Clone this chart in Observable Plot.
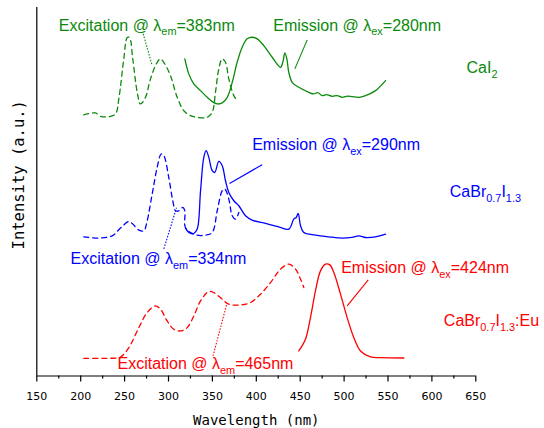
<!DOCTYPE html>
<html><head><meta charset="utf-8">
<script src="https://cdn.jsdelivr.net/npm/d3@7"></script>
<script src="https://cdn.jsdelivr.net/npm/@observablehq/plot@0.6"></script>
<style>body{margin:0;background:#fff}</style>
</head><body><div id="chart"></div>
<script>
// ---- data (wavelength in nm, intensity in arbitrary units, curves stacked) ----
const greenExcNm = [203.5,216.9,222.6,232,239.6,243.4,249.1,253,255.6,259.3,264.4,268.1,273.8,279.5,287.1,290.9,294.6,302.2,309.9,317.4,325.1,332.7,344.1,349.8,353.5,357.3,361.2,364.9,368.7,374.4,378.2];
const greenExcI  = [260.7,262.7,259.3,259,261.7,276.7,316.7,338,338,316.7,283.3,271.7,278.3,296.7,313.3,316.7,313.3,300,278.3,265,260,258.3,258.3,263.3,283.3,306.7,316.7,313.3,296.7,280,275];
const greenEmNm  = [318.6,323.1,328.8,336.4,344.1,349.8,355.5,361.2,366.9,372.6,378.2,383.9,389.6,395.3,401,408.5,418.1,427.6,430.2,432.5,434.8,437,440.9,448.4,459.8,465.5,470,475.1,480,486.4,492,497.8,504,509.2,516.7,524.4,535.8,547.2];
const greenEmI   = [316.7,301.7,291.7,285,278.3,274,271.7,272.7,278.3,293.3,313.3,328.3,336.7,338.3,336.7,330,318.3,308.3,313.3,322.7,316.7,303.3,293.3,288.3,283.3,281.7,283,280,281,279.3,280,278.3,279.5,279,278.3,280,285,295];
const blueExcNm  = [203.5,220.6,235.9,245.3,254.8,259.3,266.2,271.9,275.7,281.4,287.1,291.7,294.7,300.3,304.9,308,311.7,316.3,318.6,319.4,330.8,342.1,349.8,355.5,361.2,364.1,368.7,372.6,376.3,380.1];
const blueExcI   = [139,137.7,140,147.7,154.3,151.7,145.7,145,155,181.7,208.3,221.7,220,198.3,175,165,165,168.3,165,148,141,140.7,143.3,165,185,186.7,176.7,160,156.7,163.3];
const blueEmNm   = [319.4,323.1,328.8,332.7,336.5,340.2,342.9,345.9,349.8,352.7,357.3,361.2,364.9,368.7,374.4,380.1,387.7,395.3,410.5,425.6,437,442.7,445.5,447.7,450.4,454.1,467.4,482.6,497.9,509,516.8,524.4,535.8,547.2];
const blueEmI    = [147.7,143.3,142.3,146.7,185,218.3,225,218.3,205,203.3,214.3,210,195,183.3,175,170,160,155.7,152.3,149,146.7,156.7,158.3,162.3,150,143.3,140.7,139,137.7,138.5,140,138.3,139,141.7];
const redExcNm   = [203.5,230.2,245.3,254.8,266.2,275.7,285.2,290.9,298.5,306,313.7,321.3,328.8,336.5,345.9,351.6,361.2,368.7,382,393.4,404.8,416.2,427.6,437,444.7,450.4,454.1];
const redExcI    = [17.7,17.7,19,28.3,48.3,63.3,70,66.7,55,46.7,45,48.3,60,75,84.3,83.3,76.7,71.7,71,73.3,81.7,93.3,106.7,111.7,106.7,96.7,88.3];
const redEmNm    = [448.4,456,461.7,467.4,473.1,478.8,483.7,488.3,495.9,503.5,511.1,518.7,530.1,541.5,568];
const redEmI     = [25,36.7,58.3,85,105,111.7,111,103.3,81.7,58.3,38.3,25,19,18.3,18];

const xTicks = [150,200,250,300,350,400,450,500,550,600,650];
const xMinorTicks = [175,225,275,325,375,425,475,525,575,625];

const annotText  = ["Excitation @ λ_{em}=383nm","Emission @ λ_{ex}=280nm","Emission @ λ_{ex}=290nm","Excitation @ λ_{em}=334nm","Emission @ λ_{ex}=424nm","Excitation @ λ_{em}=465nm"];
const annotX     = [175.1,419.3,395.3,188.4,496.7,241.9];
const annotY     = [345,345,225.5,111.5,103,6.5];
const annotGroup = ["g","g","b","b","r","r"];

const speciesText = ["CaI_{2}","CaBr_{0.7}I_{1.3}","CaBr_{0.7}I_{1.3}:Eu"];
const speciesX    = [639.4,620.4,613.6];
const speciesY    = [302.5,179,50];
const speciesGroup= ["g","b","r"];

const leaderX1 = [271.2,294.7,350.7,458,406.7,527.5];
const leaderY1 = [341.7,127,20,335.7,211,96];
const leaderX2 = [281.4,309.1,366.1,443.9,369.5,503.5];
const leaderY2 = [310,168,71,306.7,192.3,70];
const leaderGroup = ["g","b","r","g","b","r"];
const leaderDotted = [true,true,true,false,false,false];

// ---- styling ----
const FONT = "'Liberation Sans', Arial, Helvetica, sans-serif";
const TICKFONT = "'DejaVu Sans', Verdana, sans-serif";
const MONO = "'DejaVu Sans Mono', monospace";
const COLORS = {g:"#0a8a0a", b:"#0000ff", r:"#ff0000"};

const pts = (nm, I) => nm.map((x,i) => ({x, y: I[i]}));
const curves = [
  {d: pts(greenExcNm, greenExcI), g:"g", dash:true},
  {d: pts(greenEmNm, greenEmI), g:"g", dash:false},
  {d: pts(blueExcNm, blueExcI), g:"b", dash:true},
  {d: pts(blueEmNm, blueEmI), g:"b", dash:false},
  {d: pts(redExcNm, redExcI), g:"r", dash:true},
  {d: pts(redEmNm, redEmI), g:"r", dash:false}
];
const annots = annotText.map((t,i)=>({t, x:annotX[i], y:annotY[i], c:COLORS[annotGroup[i]]}));
const species = speciesText.map((t,i)=>({t, x:speciesX[i], y:speciesY[i], c:COLORS[speciesGroup[i]]}));
const leaders = leaderX1.map((x1,i)=>({x1, y1:leaderY1[i], x2:leaderX2[i], y2:leaderY2[i], c:COLORS[leaderGroup[i]], dotted:leaderDotted[i]}));

const marks = [];
for (const c of curves) {
  marks.push(Plot.line(c.d, {x:"x", y:"y", stroke: COLORS[c.g], strokeWidth: 1.3,
    strokeDasharray: c.dash ? "5,4" : null, curve: "catmull-rom"}));
}
marks.push(Plot.link(leaders.filter(d=>d.dotted), {x1:"x1", y1:"y1", x2:"x2", y2:"y2", stroke:"c", strokeWidth:1.1, strokeDasharray:"1.5,1.5"}));
marks.push(Plot.link(leaders.filter(d=>!d.dotted), {x1:"x1", y1:"y1", x2:"x2", y2:"y2", stroke:"c", strokeWidth:1.1}));
marks.push(Plot.text(annots, {x:"x", y:"y", text:"t", fill:"c", textAnchor:"start", lineAnchor:"bottom", fontSize:16}));
marks.push(Plot.text(species, {x:"x", y:"y", text:"t", fill:"c", textAnchor:"start", lineAnchor:"bottom", fontSize:16}));
marks.push(Plot.ruleY([0], {stroke:"#000", strokeWidth:1.2}));
marks.push(Plot.ruleX([150], {stroke:"#000", strokeWidth:1.2}));
marks.push(Plot.axisX({ticks: xTicks, tickSize: 6, tickPadding: 10, fontSize: 11, fontFamily: TICKFONT, label: null, tickFormat: d => String(d), strokeWidth:1.2}));
marks.push(Plot.axisX({ticks: xMinorTicks, tickSize: 3, label: null, tickFormat: () => "", strokeWidth:1.2}));
marks.push(Plot.text(["Wavelength (nm)"], {text: d=>d, frameAnchor:"bottom", lineAnchor:"bottom", dy: 49, fontSize: 14, fontFamily: MONO, fill:"#000"}));
marks.push(Plot.text(["Intensity (a.u.)"], {text: d=>d, frameAnchor:"left", textAnchor:"middle", lineAnchor:"middle", rotate:-90, dx:-18, dy:-17, fontSize: 15.5, fontFamily: MONO, fill:"#000"}));

const plot = Plot.plot({
  width: 544, height: 428,
  marginLeft: 36.3, marginRight: 68.7, marginTop: 7, marginBottom: 52.5,
  x: {domain: [150, 650]},
  y: {domain: [0, 368], axis: null},
  color: {type: "identity"},
  style: {fontFamily: FONT, background: "#fff", overflow: "visible", color: "#000"},
  marks
});
document.getElementById("chart").append(plot);

// subscripts: "_{...}" -> lowered, smaller tspan
plot.querySelectorAll("text").forEach(t => {
  const s = t.textContent;
  if (!s.includes("_{")) return;
  const fs = parseFloat(getComputedStyle(t).fontSize) || 15;
  const shift = fs * 0.3;
  t.textContent = "";
  let low = false;
  for (const p of s.split(/(_\{[^}]*\})/)) {
    if (!p) continue;
    const ts = document.createElementNS("http://www.w3.org/2000/svg", "tspan");
    if (p.startsWith("_{")) {
      ts.textContent = p.slice(2, -1);
      ts.setAttribute("font-size", (fs * 0.68).toFixed(1) + "px");
      ts.setAttribute("dy", shift.toFixed(1));
      low = true;
    } else {
      ts.textContent = p;
      if (low) { ts.setAttribute("dy", (-shift).toFixed(1)); low = false; }
    }
    t.appendChild(ts);
  }
});
</script>
</body></html>
